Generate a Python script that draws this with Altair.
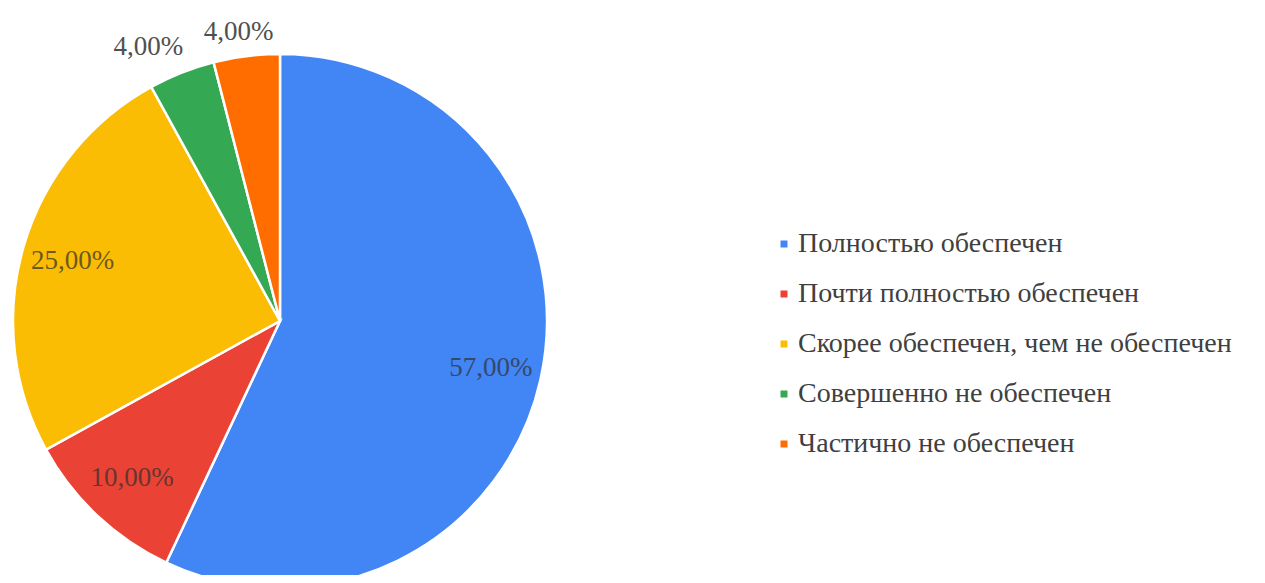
import altair as alt
import pandas as pd

categories = [
    "Полностью обеспечен",
    "Почти полностью обеспечен",
    "Скорее обеспечен, чем не обеспечен",
    "Совершенно не обеспечен",
    "Частично не обеспечен",
]
values = [57, 10, 25, 4, 4]
colors = ["#4285F4", "#EA4335", "#FBBC04", "#34A853", "#FF6D01"]
labels = [f"{v:.2f}".replace(".", ",") + "%" for v in values]

df = pd.DataFrame({
    "cat": categories,
    "value": values,
    "idx": list(range(len(categories))),
    "label": labels,
})

CX, CY, R = 267, 308, 267
FONT = "Liberation Serif"
LEG_FS = 28

base = alt.Chart(df)

arcs = base.mark_arc(stroke="white", strokeWidth=2.5, radius=R).encode(
    theta=alt.Theta("value:Q", stack=True),
    order=alt.Order("idx:Q"),
    color=alt.Color(
        "cat:N",
        scale=alt.Scale(domain=categories, range=colors),
        legend=alt.Legend(
            title=None,
            orient="none",
            legendX=757,
            legendY=217,
            symbolType="square",
            symbolSize=49,
            symbolStrokeWidth=0,
            labelFont=FONT,
            labelFontSize=LEG_FS,
            labelColor="#404040",
            labelLimit=0,
            labelOffset=0,
            rowPadding=22,
            padding=0,
        ),
    ),
    x=alt.value(CX),
    y=alt.value(CY),
)

lab = (
    base.transform_joinaggregate(total="sum(value)")
    .transform_window(cum="sum(value)", sort=[alt.SortField("idx")], frame=[None, 0])
    .transform_calculate(mid="(datum.cum - datum.value/2) / datum.total * 2 * PI")
)

def text_layer(cond, radius, dx=0, dy=0, color="#404040", opacity=1.0):
    return lab.transform_filter(cond).mark_text(
        radius=radius, font=FONT, fontSize=27, baseline="middle", align="center",
        dx=dx, dy=dy, color=color, opacity=opacity,
    ).encode(
        theta=alt.Theta("mid:Q", scale=None),
        text="label:N",
        x=alt.value(CX),
        y=alt.value(CY),
    )

inner = text_layer("datum.value >= 10", 216, color="#303030", opacity=0.7)
green = text_layer("datum.idx == 3", 298, dx=-22, dy=3, color="#505050")
orange = text_layer("datum.idx == 4", 298, dx=-4, dy=7, color="#505050")

chart = (
    alt.layer(arcs, inner, green, orange)
    .properties(width=1236, height=557, autosize=alt.AutoSizeParams(type="none"), padding=5)
    .configure_view(stroke=None)
)

chart.save("out.html", embed_options={"renderer": "svg", "actions": False})
